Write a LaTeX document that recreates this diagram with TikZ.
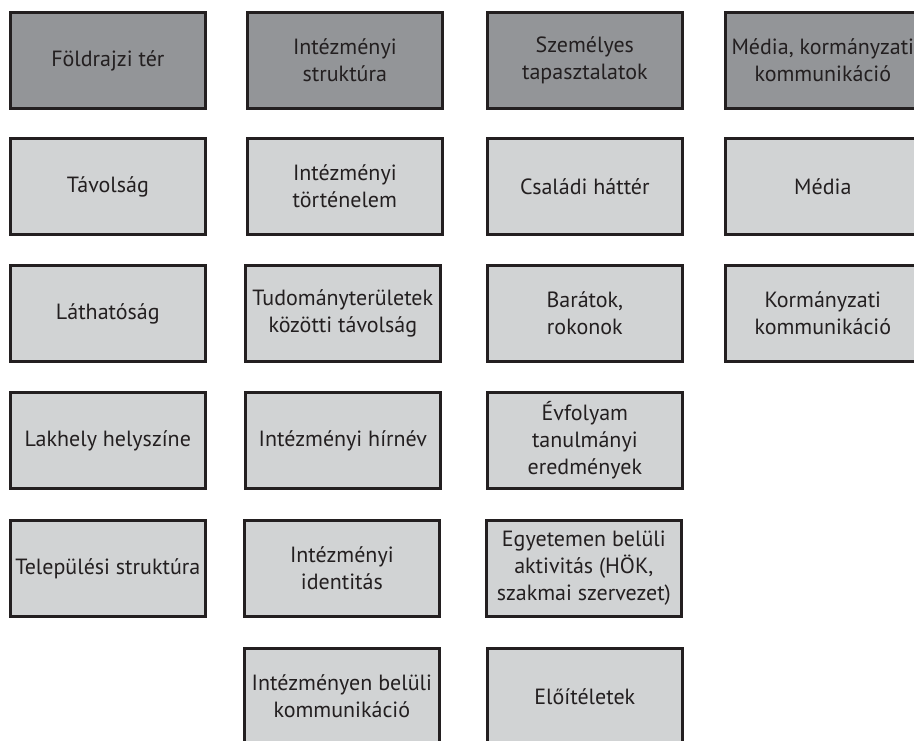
\documentclass[tikz,border=0pt]{standalone}
\usepackage{fontspec}
\setmainfont{PT Sans}
\definecolor{darkfill}{HTML}{939598}
\definecolor{lightfill}{HTML}{D1D3D4}
\definecolor{edge}{HTML}{231F20}
\definecolor{txt}{HTML}{231F20}
\begin{document}
\begin{tikzpicture}[x=0.75pt,y=-0.75pt,
  box/.style={draw=edge,line width=2.25pt,minimum width=146pt,minimum height=72pt,
    inner sep=0pt,align=center,text=txt,font=\fontsize{16.5}{20.2}\selectfont,anchor=north west},
  darkbox/.style={box,fill=darkfill},
  lightbox/.style={box,fill=lightfill}]
\useasboundingbox (0,0) rectangle (914,740);
\clip (0,0) rectangle (914,740);
% row 1
\node[darkbox] (a1) at (9,11) {Földrajzi tér};
\node[darkbox] (b1) at (246,11) {Intézményi\\struktúra};
\node[darkbox] (c1) at (486,11) {Személyes\\tapasztalatok};
\node[darkbox] (d1) at (724,11) {Média, kormányzati\\kommunikáció};
% row 2
\node[lightbox] (a2) at (9,137) {Távolság};
\node[lightbox] (b2) at (246,137) {Intézményi\\történelem};
\node[lightbox] (c2) at (486,137) {Családi háttér};
\node[lightbox] (d2) at (724,137) {Média};
% row 3
\node[lightbox] (a3) at (9,264) {Láthatóság};
\node[lightbox] (b3) at (244,264) {Tudományterületek\\közötti távolság};
\node[lightbox] (c3) at (486,264) {Barátok,\\rokonok};
\node[lightbox] (d3) at (724,264) {Kormányzati\\kommunikáció};
% row 4
\node[lightbox] (a4) at (9,391) {Lakhely helyszíne};
\node[lightbox] (b4) at (244,391) {Intézményi hírnév};
\node[lightbox] (c4) at (486,391) {Évfolyam\\tanulmányi\\eredmények};
% row 5
\node[lightbox] (a5) at (9,519) {Települési struktúra};
\node[lightbox] (b5) at (243,519) {Intézményi\\identitás};
\node[lightbox] (c5) at (485,519) {Egyetemen belüli\\aktivitás (HÖK,\\szakmai szervezet)};
% row 6
\node[lightbox] (b6) at (243,647) {Intézményen belüli\\kommunikáció};
\node[lightbox] (c6) at (486,647) {Előítéletek};
\end{tikzpicture}
\end{document}
